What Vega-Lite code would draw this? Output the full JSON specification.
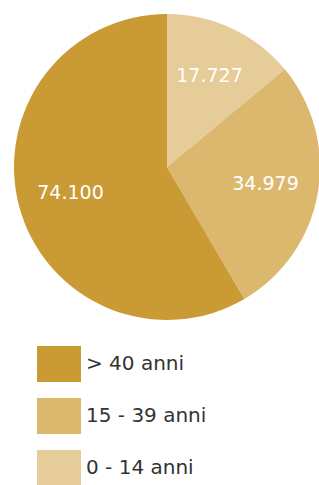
{
  "$schema": "https://vega.github.io/schema/vega-lite/v6.json",
  "width": 334,
  "height": 334,
  "autosize": "none",
  "padding": {"left": 0, "top": 0, "right": 0, "bottom": 151},
  "background": "white",
  "config": {"view": {"stroke": null}, "font": "DejaVu Sans"},
  "data": {"values": [
    {"fascia": "0 - 14 anni", "valore": 17727, "etichetta": "17.727"},
    {"fascia": "15 - 39 anni", "valore": 34979, "etichetta": "34.979"},
    {"fascia": "> 40 anni", "valore": 74100, "etichetta": "74.100"}
  ]},
  "encoding": {
    "theta": {"field": "valore", "type": "quantitative", "stack": true},
    "order": {"field": "valore", "type": "quantitative", "sort": "ascending"}
  },
  "layer": [
    {"mark": {"type": "arc", "outerRadius": 153, "stroke": null},
     "encoding": {
      "color": {
        "field": "fascia", "type": "nominal",
        "scale": {"domain": ["> 40 anni", "15 - 39 anni", "0 - 14 anni"], "range": ["#CA9A34", "#DBB86E", "#E6CC98"]},
        "legend": {
          "title": null, "orient": "none", "legendX": 37, "legendY": 342,
          "symbolType": "M-1,-0.818L1,-0.818L1,0.818L-1,0.818Z",
          "symbolSize": 1936, "symbolStrokeWidth": 0, "symbolOpacity": 1,
          "labelFontSize": 20, "labelColor": "#333333", "labelFont": "DejaVu Sans",
          "labelOffset": 5, "rowPadding": 12, "labelLimit": 300
        }
      }
     }},
    {"mark": {"type": "text", "radius": 100, "fontSize": 19, "font": "DejaVu Sans"},
     "encoding": {"text": {"field": "etichetta", "type": "nominal"}, "color": {"value": "white"}}}
  ]
}
